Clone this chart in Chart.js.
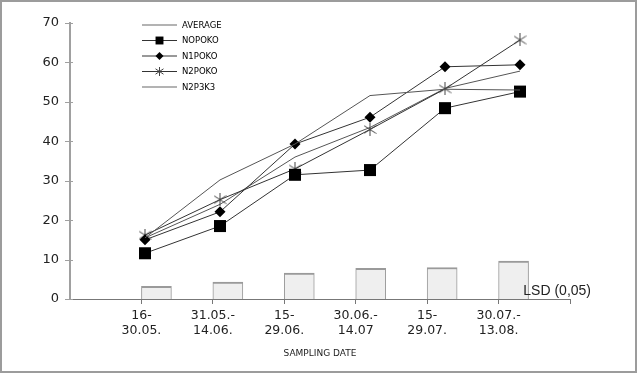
<!DOCTYPE html>
<html>
<head>
<meta charset="utf-8">
<script src="https://cdn.jsdelivr.net/npm/chart.js@4.4.1/dist/chart.umd.min.js"></script>
<style>
  html, body { margin: 0; padding: 0; background: #fff; }
  #wrap { width: 640px; height: 376px; position: relative; }
</style>
</head>
<body>
<div id="wrap"><canvas id="chart" width="640" height="376"></canvas></div>
<script>
// sampling periods (two-line tick labels)
const periods = [
  ['16-', '30.05.'],
  ['31.05.-', '14.06.'],
  ['15-', '29.06.'],
  ['30.06.-', '14.07'],
  ['15-', '29.07.'],
  ['30.07.-', '13.08.']
];

const average = [15.5, 30.2, 39.3, 51.6, 53.2, 53.0];
const n0p0k0  = [11.6, 18.5, 31.5, 32.7, 48.4, 52.6];
const n1p0k0  = [15.0, 22.1, 39.3, 46.1, 58.9, 59.4];
const n2p0k0  = [16.2, 25.2, 33.0, 43.0, 53.3, 65.7];
const n2p3k3  = [15.5, 24.0, 36.0, 43.5, 53.4, 57.8];
const lsd     = [3.2, 4.3, 6.6, 7.8, 8.0, 9.6];

const yTicks = [0, 10, 20, 30, 40, 50, 60, 70];

// asterisk marker (x with a vertical bar) as a small canvas
function asterisk(size, color) {
  const c = document.createElement('canvas');
  c.width = size; c.height = size;
  const g = c.getContext('2d');
  const m = size / 2;
  g.strokeStyle = color;
  g.lineWidth = 1;
  g.beginPath();
  g.moveTo(m, 0); g.lineTo(m, size);
  g.moveTo(0.5, size * 0.2); g.lineTo(size - 0.5, size * 0.8);
  g.moveTo(size - 0.5, size * 0.2); g.lineTo(0.5, size * 0.8);
  g.stroke();
  return c;
}
const starBig = asterisk(13, '#444');
const starSmall = asterisk(9, '#444');

const toPts = arr => arr.map((v, i) => ({ x: i + 1, y: v }));

const lineBase = {
  type: 'line',
  xAxisID: 'xl',
  borderColor: '#333',
  borderWidth: 1,
  tension: 0,
  fill: false,
  pointBorderWidth: 0,
  order: 1
};

const series = [
  { ...lineBase, label: 'AVERAGE', data: toPts(average), borderColor: '#555', pointRadius: 0,
    legendLine: '#9a9a9a', legendMarker: null },
  { ...lineBase, label: 'NOPOKO', data: toPts(n0p0k0), pointStyle: 'rect', pointRadius: 8.5,
    pointBackgroundColor: '#000', legendLine: '#333', legendMarker: { style: 'rect', r: 5.6 } },
  { ...lineBase, label: 'N1POKO', data: toPts(n1p0k0), pointStyle: 'rectRot', pointRadius: 5.5,
    pointBackgroundColor: '#000', legendLine: '#333', legendMarker: { style: 'rectRot', r: 4 } },
  { ...lineBase, label: 'N2POKO', data: toPts(n2p0k0), pointStyle: starBig, pointRadius: 6,
    legendLine: '#333', legendMarker: { style: starSmall, r: 4.5 } },
  { ...lineBase, label: 'N2P3K3', data: toPts(n2p3k3), borderColor: '#555', pointRadius: 0,
    legendLine: '#9a9a9a', legendMarker: null }
];

const bars = {
  type: 'bar',
  label: 'LSD (0,05)',
  xAxisID: 'x',
  data: toPts(lsd),
  backgroundColor: '#efefef',
  borderColor: '#9a9a9a',
  borderWidth: { top: 2, left: 1, right: 1, bottom: 0 },
  borderSkipped: 'bottom',
  barThickness: 30,
  order: 2
};

// frame, y axis line, in-plot legend and the LSD caption
const extras = {
  id: 'extras',
  afterDraw(chart) {
    const ctx = chart.ctx;
    const ys = chart.scales.y;
    const xs = chart.scales.x;
    ctx.save();
    ctx.strokeStyle = '#9c9c9c';
    ctx.lineWidth = 2;
    ctx.strokeRect(1, 1, 635, 371);

    // y axis line, ticks crossing it
    const ax = Math.round(xs.getPixelForValue(0));
    ctx.strokeStyle = '#a0a0a0';
    ctx.lineWidth = 2;
    ctx.beginPath();
    ctx.moveTo(ax, ys.getPixelForValue(70) - 1);
    ctx.lineTo(ax, ys.getPixelForValue(0));
    ctx.stroke();
    ctx.lineWidth = 1;
    yTicks.forEach(v => {
      const py = Math.round(ys.getPixelForValue(v)) + 0.5;
      ctx.beginPath();
      ctx.moveTo(ax - 5, py);
      ctx.lineTo(ax + 3, py);
      ctx.stroke();
    });

    // legend
    let y = 25;
    series.forEach(ds => {
      ctx.strokeStyle = ds.legendLine;
      ctx.lineWidth = ds.legendMarker ? 1 : 1.5;
      ctx.beginPath();
      ctx.moveTo(142, y); ctx.lineTo(177, y);
      ctx.stroke();
      if (ds.legendMarker) {
        ctx.fillStyle = '#000';
        ctx.strokeStyle = '#000';
        Chart.helpers.drawPoint(ctx, { pointStyle: ds.legendMarker.style, radius: ds.legendMarker.r,
          rotation: 0, borderWidth: 0 }, 159.5, y);
      }
      ctx.fillStyle = '#000';
      ctx.font = '8.5px "DejaVu Sans"';
      ctx.textBaseline = 'middle';
      ctx.textAlign = 'left';
      ctx.fillText(ds.label, 182, y + 0.5);
      y += 15.5;
    });

    // LSD caption at the end of the x axis
    ctx.font = '14px "Liberation Sans"';
    ctx.fillStyle = '#222';
    ctx.textAlign = 'right';
    ctx.textBaseline = 'alphabetic';
    ctx.fillText(bars.label, xs.getPixelForValue(7) + 21, chart.chartArea.bottom - 4);
    ctx.restore();
  }
};

new Chart(document.getElementById('chart'), {
  type: 'bar',
  data: { datasets: [...series, bars] },
  options: {
    responsive: false,
    animation: false,
    layout: { padding: { top: 23, right: 70, left: 0, bottom: 0 } },
    plugins: { legend: { display: false }, tooltip: { enabled: false } },
    scales: {
      x: {
        type: 'linear',
        offset: false,
        min: 0,
        max: 7,
        afterFit: s => { s.height = 77; },
        afterBuildTicks: s => { s.ticks = [1, 2, 3, 4, 5, 6, 7].map(v => ({ value: v })); },
        grid: { offset: false, drawOnChartArea: false, tickLength: 5, tickColor: '#777', tickWidth: 1 },
        border: { color: '#777', width: 1 },
        ticks: {
          padding: 4,
          color: '#222',
          font: { family: 'DejaVu Sans', size: 12.5 },
          maxRotation: 0,
          autoSkip: false,
          callback: v => periods[v - 1] || ''
        },
        title: {
          display: true,
          text: 'SAMPLING DATE',
          color: '#222',
          font: { family: 'DejaVu Sans', size: 9 },
          padding: { top: 4, bottom: 17 }
        }
      },
      // line markers sit on a slightly wider pitch than the bar ticks
      xl: {
        type: 'linear',
        display: false,
        offset: false,
        grid: { offset: false },
        min: 0,
        max: 7 / 1.05
      },
      y: {
        min: 0,
        max: 70,
        afterFit: s => { s.width = 70; },
        afterBuildTicks: s => { s.ticks = yTicks.map(v => ({ value: v })); },
        grid: { display: false },
        border: { display: false },
        ticks: {
          padding: 3,
          color: '#222',
          font: { family: 'DejaVu Sans', size: 13 }
        }
      }
    }
  },
  plugins: [extras]
});
</script>
</body>
</html>
